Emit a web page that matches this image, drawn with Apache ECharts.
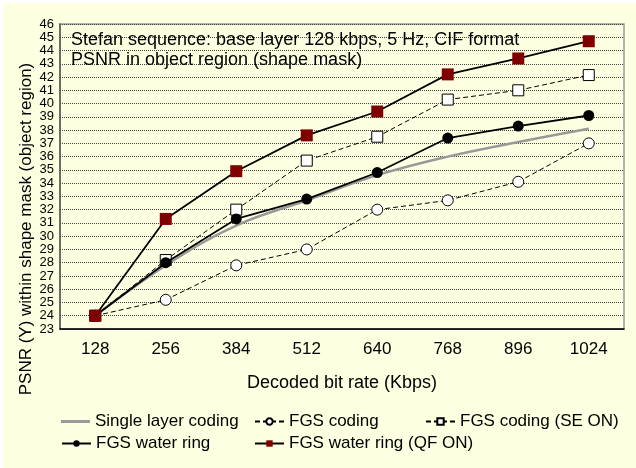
<!DOCTYPE html>
<html>
<head>
<meta charset="utf-8">
<script src="https://cdn.jsdelivr.net/npm/echarts@6/dist/echarts.min.js"></script>
<style>html,body{margin:0;padding:0;background:#fff}#c{width:636px;height:468px}</style>
</head>
<body>
<div id="c"></div>
<script>
var categories = ['128','256','384','512','640','768','896','1024'];
var singleLayer = [24, 27.8, 30.8, 32.7, 34.6, 36.0, 37.1, 38.1];
var fgsCoding = [24, 25.2, 27.8, 29.0, 32.0, 32.7, 34.1, 37.0];
var fgsCodingSE = [24, 28.2, 32.0, 35.7, 37.5, 40.3, 41.0, 42.15];
var fgsWaterRing = [24, 28.0, 31.3, 32.8, 34.8, 37.4, 38.3, 39.1];
var fgsWaterRingQF = [24, 31.3, 34.9, 37.6, 39.4, 42.2, 43.4, 44.7];
var titleLines = ['Stefan sequence: base layer 128 kbps, 5 Hz, CIF format', 'PSNR in object region (shape mask)'];
var yAxisName = 'PSNR (Y) within shape mask (object region)';
var xAxisName = 'Decoded bit rate (Kbps)';

var font = 'Liberation Sans, Arial, sans-serif';
var chart = echarts.init(document.getElementById('c'));
function leg(item, left, top, h) {
  return {data: [item], left: left, top: top, itemWidth: 29, itemHeight: h || 8, itemGap: 3,
    textStyle: {fontFamily: font, fontSize: 17, color: '#000'}, padding: 0, selectedMode: false};
}
chart.setOption({
  backgroundColor: '#ffffff',
  animation: false,
  graphic: [
    {type: 'rect', shape: {x: 3, y: 3, width: 640, height: 470}, style: {fill: '#FFFFE1'}, z: -10, silent: true},
    {type: 'text', x: 26, y: 229, rotation: Math.PI / 2, style: {text: yAxisName, fontFamily: font, fontSize: 17, fill: '#000', align: 'center', verticalAlign: 'middle'}}
  ],
  title: {
    text: titleLines.join('\n'), left: 66, top: 25,
    textStyle: {fontFamily: font, fontSize: 18, fontWeight: 'normal', color: '#000', lineHeight: 20}
  },
  grid: {left: 60, top: 24, right: 12, bottom: 139, show: true, borderColor: '#999', borderWidth: 1.5, backgroundColor: 'transparent'},
  legend: [
    leg({name: 'Single layer coding', icon: 'rect', itemStyle: {color: '#999'}}, 61, 413, 3),
    leg('FGS coding', 254, 413),
    leg('FGS coding (SE ON)', 425, 413),
    leg('FGS water ring', 61, 435),
    leg('FGS water ring (QF ON)', 254, 435)
  ],
  xAxis: {
    type: 'category', data: categories, boundaryGap: true,
    name: xAxisName, nameLocation: 'middle', nameGap: 45,
    nameTextStyle: {fontFamily: font, fontSize: 18, color: '#000'},
    axisLine: {lineStyle: {color: '#000', width: 1.5}},
    axisTick: {inside: true, length: 5, lineStyle: {color: '#000'}},
    axisLabel: {fontFamily: font, fontSize: 17, color: '#000', margin: 12},
    splitLine: {show: false}
  },
  yAxis: {
    type: 'value', min: 23, max: 46, interval: 1,
    axisLine: {show: true, lineStyle: {color: '#555', width: 1.5}},
    axisTick: {show: false},
    axisLabel: {fontFamily: font, fontSize: 13, color: '#000', margin: 6},
    splitLine: {show: true, lineStyle: {color: '#444', type: [1, 1], width: 1}}
  },
  series: [
    {name: 'Single layer coding', type: 'line', data: singleLayer, smooth: 0.4, showSymbol: false, symbol: 'none',
      lineStyle: {color: '#999', width: 2.5}, itemStyle: {color: '#999'}, z: 1},
    {name: 'FGS coding', type: 'line', data: fgsCoding, symbol: 'circle', symbolSize: 11,
      lineStyle: {color: '#000', width: 1, type: [5, 3]}, itemStyle: {color: '#fff', borderColor: '#000', borderWidth: 1}, z: 2},
    {name: 'FGS coding (SE ON)', type: 'line', data: fgsCodingSE, symbol: 'rect', symbolSize: 11,
      lineStyle: {color: '#000', width: 1, type: [5, 3]}, itemStyle: {color: '#fff', borderColor: '#000', borderWidth: 1}, z: 3},
    {name: 'FGS water ring', type: 'line', data: fgsWaterRing, symbol: 'circle', symbolSize: 11,
      lineStyle: {color: '#000', width: 1.8}, itemStyle: {color: '#000'}, z: 4},
    {name: 'FGS water ring (QF ON)', type: 'line', data: fgsWaterRingQF, symbol: 'rect', symbolSize: 12,
      lineStyle: {color: '#000', width: 1.8}, itemStyle: {color: '#800000'}, z: 5}
  ]
});
</script>
</body>
</html>
